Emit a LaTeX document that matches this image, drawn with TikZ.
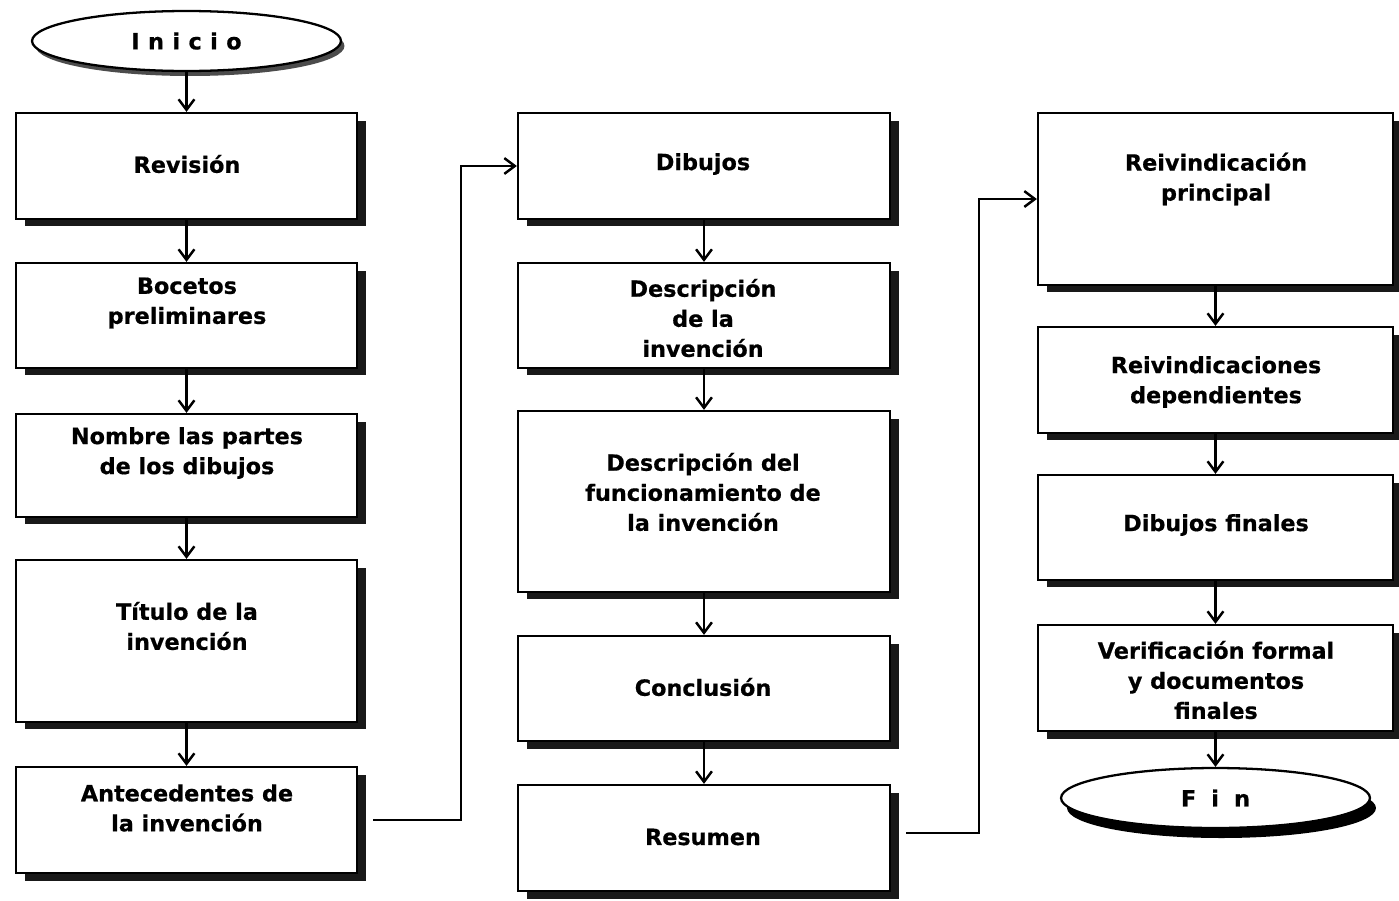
\documentclass[tikz,border=0pt]{standalone}
\usepackage{fontspec}
\setmainfont{DejaVu Sans}[BoldFeatures={FakeBold=0.6}]
\usetikzlibrary{arrows.meta, positioning, shadows, shapes.geometric}

\begin{document}
\begin{tikzpicture}[x=0.02cm, y=-0.02cm,
    caja/.style={draw, line width=1.3pt, fill=white, drop shadow={shadow xshift=0.18cm, shadow yshift=-0.15cm, fill=black, opacity=0.9}},
    uno/.style={caja, minimum width=6.82cm},
    dos/.style={caja, minimum width=7.44cm},
    tres/.style={caja, minimum width=7.1cm},
    texto/.style={align=center, font=\bfseries\fontsize{12.7}{17.1}\selectfont},
    extremo/.style={draw, ellipse, line width=1.3pt, fill=white, minimum width=6.18cm, minimum height=1.2cm, font=\bfseries\fontsize{12.7}{17.1}\selectfont},
    flecha/.style={-{Straight Barb[length=6pt, width=9pt]}, line width=1.4pt}]
    \useasboundingbox (0,0) rectangle (1399,900);

    \node[extremo, drop shadow={shadow xshift=0.07cm, shadow yshift=-0.1cm, fill=black, opacity=0.7}] (inicio) at (186.5,41) {I\kern4.8pt n\kern4.8pt i\kern4.8pt c\kern4.8pt i\kern4.8pt o};
    \node[uno, minimum height=2.12cm] (revision) at (186.5,166) {};
    \node[uno, minimum height=2.1cm] (bocetos) at (186.5,315.5) {};
    \node[uno, minimum height=2.06cm] (nombre) at (186.5,465.5) {};
    \node[uno, minimum height=3.24cm] (titulo) at (186.5,641) {};
    \node[uno, minimum height=2.12cm] (antecedentes) at (186.5,820) {};

    \node[dos, minimum height=2.12cm] (dibujos) at (704,166) {};
    \node[dos, minimum height=2.1cm] (descripcion) at (704,315.5) {};
    \node[dos, minimum height=3.62cm] (funcionamiento) at (704,501.5) {};
    \node[dos, minimum height=2.1cm] (conclusion) at (704,688.5) {};
    \node[dos, minimum height=2.12cm] (resumen) at (704,838) {};

    \node[tres, minimum height=3.44cm] (principal) at (1215.5,199) {};
    \node[tres, minimum height=2.12cm] (dependientes) at (1215.5,380) {};
    \node[tres, minimum height=2.1cm] (dibfinales) at (1215.5,527.5) {};
    \node[tres, minimum height=2.12cm] (verificacion) at (1215.5,678) {};
    \node[extremo, drop shadow={shadow xshift=0.12cm, shadow yshift=-0.2cm, fill=black, opacity=1}] (fin) at (1215.5,798) {F\kern8.6pt i\kern8.6pt n};

    \node[texto] (revisionTxt) at (187,164) {Revisión};
    \node[texto] (bocetosTxt) at (187,303) {Bocetos\\preliminares};
    \node[texto] (nombreTxt) at (187,453) {Nombre las partes\\de los dibujos};
    \node[texto] (tituloTxt) at (187,626) {Título de la\\invención};
    \node[texto] (antecedentesTxt) at (187,808) {Antecedentes de\\la invención};

    \node[texto] (dibujosTxt) at (703,164) {Dibujos};
    \node[texto] (descripcionTxt) at (703,318) {Descripción\\de la\\invención};
    \node[texto] (funcionamientoTxt) at (703,492) {Descripción del\\funcionamiento de\\la invención};
    \node[texto] (conclusionTxt) at (703,687) {Conclusión};
    \node[texto] (resumenTxt) at (703,837) {Resumen};

    \node[texto] (principalTxt) at (1216,179) {Reivindicación\\principal};
    \node[texto] (dependientesTxt) at (1216,382) {Reivindicaciones\\dependientes};
    \node[texto] (dibfinalesTxt) at (1216,525) {Dibujos finales};
    \node[texto] (verificacionTxt) at (1216,680) {Verificación formal\\y documentos\\finales};

    \draw[flecha] (inicio) -- (revision);
    \draw[flecha] (revision) -- (bocetos);
    \draw[flecha] (bocetos) -- (nombre);
    \draw[flecha] (nombre) -- (titulo);
    \draw[flecha] (titulo) -- (antecedentes);
    \draw[flecha, shorten <=0.3cm] (antecedentes.east) -- ++(103,0) |- (dibujos.west);

    \draw[flecha] (dibujos) -- (descripcion);
    \draw[flecha] (descripcion) -- (funcionamiento);
    \draw[flecha] (funcionamiento) -- (conclusion);
    \draw[flecha] (conclusion) -- (resumen);
    \draw[flecha, shorten <=0.3cm] ([yshift=0.1cm]resumen.east) -- ++(88,0) |- (principal.west);

    \draw[flecha] (principal) -- (dependientes);
    \draw[flecha] (dependientes) -- (dibfinales);
    \draw[flecha] (dibfinales) -- (verificacion);
    \draw[flecha] (verificacion) -- (fin);
\end{tikzpicture}
\end{document}
